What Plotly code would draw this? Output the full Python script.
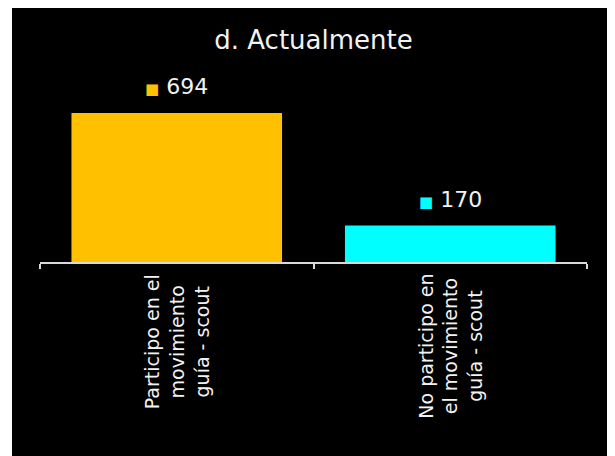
import plotly.graph_objects as go

categories = ["Participo en el movimiento guía - scout",
              "No participo en el movimiento guía - scout"]
tick_labels = ["Participo en el<br>movimiento<br>guía - scout",
               "No participo en<br>el movimiento<br>guía - scout"]
values = [694, 170]
colors = ["#FFC000", "#00FFFF"]
title_text = "d. Actualmente"

FONT = "'DejaVu Sans', sans-serif"

fig = go.Figure()
fig.add_trace(go.Bar(x=categories, y=values, marker=dict(color=colors, line=dict(width=0)),
                     hoverinfo="skip", showlegend=False))

# black panel
fig.add_shape(type="rect", xref="paper", yref="paper",
              x0=-0.0512, x1=1.2, y0=-1.4, y1=1.4767,
              fillcolor="black", line=dict(width=0), layer="below")

for c, v, col in zip(categories, values, colors):
    fig.add_annotation(x=c, y=v, xref="x", yref="y", yanchor="bottom", yshift=12,
                       showarrow=False,
                       text=f"<span style='color:{col};font-size:15px'>■</span> {v}",
                       font=dict(family=FONT, size=22, color="#f2f2f2"))

for c, t in zip(categories, tick_labels):
    fig.add_annotation(x=c, y=0, xref="x", yref="paper", yanchor="top", yshift=-10,
                       showarrow=False, textangle=-90, align="center", text=t,
                       font=dict(family=FONT, size=19, color="#f2f2f2"))

fig.update_layout(
    width=615, height=456,
    margin=dict(l=32, r=36, t=82, b=202),
    paper_bgcolor="white", plot_bgcolor="black",
    bargap=0.23,
    title=dict(text=title_text, x=0.5, xanchor="center", xref="paper",
               y=0.93, yanchor="middle", yref="container",
               font=dict(family=FONT, size=26, color="#f2f2f2")),
    xaxis=dict(showticklabels=False, showline=True, linecolor="#d9d9d9", linewidth=1.5,
               ticks="outside", ticklen=5, tickcolor="#d9d9d9", tickwidth=1.5,
               tickson="boundaries", showgrid=False, zeroline=False),
    yaxis=dict(range=[0, 801], visible=False, showgrid=False, zeroline=False),
)

fig.write_html("out.html")
